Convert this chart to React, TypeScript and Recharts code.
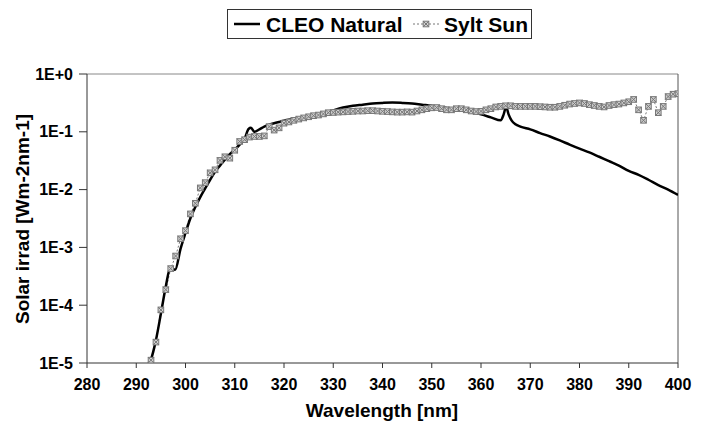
import React from 'react';
import { LineChart, Line, XAxis, YAxis, ReferenceLine } from 'recharts';

// ---- data ----
const cleoWavelength = [
  292.5, 293, 294, 295, 296, 296.9, 297.9, 299, 300, 301, 302, 303, 304, 305, 306, 307, 308, 309, 310,
  311, 312, 312.8, 313.3, 314, 315, 316, 317, 318, 319, 320, 322, 324, 326, 328, 330, 332, 334, 336,
  338, 340, 342, 344, 346, 348, 350, 352, 354, 356, 358, 360, 362, 364, 364.6, 365.1, 365.6, 366.2,
  367, 368, 370, 372, 374, 376, 378, 380, 382, 384, 386, 388, 390, 392, 394, 396, 398, 400,
];
const cleoIrradiance = [
  1.0e-5, 1.17e-5, 2.5e-5, 7.1e-5, 2.1e-4, 4.4e-4, 4.1e-4, 9.5e-4, 1.78e-3, 3.2e-3, 5.0e-3, 7.4e-3,
  1.05e-2, 1.48e-2, 2.04e-2, 2.6e-2, 3.3e-2, 4.1e-2, 4.9e-2, 6.0e-2, 7.6e-2, 0.112, 0.117, 0.1, 0.11,
  0.123, 0.133, 0.141, 0.148, 0.155, 0.166, 0.174, 0.186, 0.204, 0.234, 0.263, 0.282, 0.295, 0.309,
  0.316, 0.32, 0.316, 0.309, 0.295, 0.282, 0.266, 0.251, 0.234, 0.219, 0.2, 0.178, 0.158, 0.2, 0.27,
  0.2, 0.158, 0.135, 0.123, 0.11, 0.095, 0.083, 0.071, 0.06, 0.051, 0.044, 0.037, 0.031, 0.026, 0.021,
  0.018, 0.0148, 0.012, 0.01, 0.0081,
];
const syltWavelength = [
  293, 294, 295, 296, 297, 298, 299, 300, 301, 302, 303, 304, 305, 306, 307, 308, 309, 310, 311, 312,
  313, 314, 315, 316, 317, 318, 319, 320, 321, 322, 323, 324, 325, 326, 327, 328, 329, 330, 331, 332,
  333, 334, 335, 336, 337, 338, 339, 340, 341, 342, 343, 344, 345, 346, 347, 348, 349, 350, 351, 352,
  353, 354, 355, 356, 357, 358, 359, 360, 361, 362, 363, 364, 365, 366, 367, 368, 369, 370, 371, 372,
  373, 374, 375, 376, 377, 378, 379, 380, 381, 382, 383, 384, 385, 386, 387, 388, 389, 390, 391, 392,
  393, 394, 395, 396, 397, 398, 399, 400,
];
const syltIrradiance = [
  1.12e-5, 2.3e-5, 8.3e-5, 1.86e-4, 4.3e-4, 7.1e-4, 1.41e-3, 1.95e-3, 3.8e-3, 5.8e-3, 1.07e-2, 1.32e-2,
  1.95e-2, 2.2e-2, 3.2e-2, 3.7e-2, 3.5e-2, 4.8e-2, 6.8e-2, 7.3e-2, 8.1e-2, 8.3e-2, 8.3e-2, 8.5e-2,
  0.123, 0.107, 0.117, 0.141, 0.148, 0.158, 0.166, 0.174, 0.182, 0.19, 0.195, 0.204, 0.214, 0.216,
  0.219, 0.221, 0.224, 0.226, 0.229, 0.229, 0.232, 0.232, 0.229, 0.226, 0.224, 0.221, 0.219, 0.219,
  0.221, 0.219, 0.229, 0.24, 0.251, 0.26, 0.263, 0.251, 0.24, 0.24, 0.251, 0.251, 0.24, 0.229, 0.224,
  0.226, 0.24, 0.251, 0.269, 0.275, 0.282, 0.282, 0.275, 0.275, 0.275, 0.275, 0.275, 0.272, 0.269,
  0.266, 0.266, 0.275, 0.288, 0.302, 0.309, 0.316, 0.309, 0.295, 0.285, 0.275, 0.269, 0.285, 0.295,
  0.302, 0.316, 0.331, 0.363, 0.24, 0.158, 0.275, 0.363, 0.214, 0.275, 0.407, 0.447, 0.457,
];
const xTicks = [280, 290, 300, 310, 320, 330, 340, 350, 360, 370, 380, 390, 400];
const yTicks = [1e-5, 1e-4, 1e-3, 1e-2, 1e-1, 1];
const yTickLabels = ['1E-5', '1E-4', '1E-3', '1E-2', '1E-1', '1E+0'];
const seriesNames = ['CLEO Natural', 'Sylt Sun'];
const xTitle = 'Wavelength [nm]';
const yTitle = 'Solar irrad [Wm-2nm-1]';

const cleoData = cleoWavelength.map((x, i) => ({ x, y: cleoIrradiance[i] }));
const syltData = syltWavelength.map((x, i) => ({ x, y: syltIrradiance[i] }));

const FONT = '"Liberation Sans", Arial, Helvetica, sans-serif';
const GRAY = '#777777';

const SyltMarker = (props: any) => {
  const { cx, cy } = props;
  if (cx == null || cy == null) return null;
  const s = 2.8;
  return (
    <g>
      <rect x={cx - s} y={cy - s} width={2 * s} height={2 * s} fill="#d0d0d0" stroke={GRAY} strokeWidth={1} />
      <line x1={cx - s} y1={cy - s} x2={cx + s} y2={cy + s} stroke={GRAY} strokeWidth={1} />
      <line x1={cx - s} y1={cy + s} x2={cx + s} y2={cy - s} stroke={GRAY} strokeWidth={1} />
    </g>
  );
};

const YTitle = () => (
  <text
    x={22}
    y={219}
    transform="rotate(-90, 22, 219)"
    textAnchor="middle"
    dominantBaseline="central"
    fontFamily={FONT}
    fontWeight="bold"
    fontSize={19}
    fill="#000"
  >
    {yTitle}
  </text>
);

const XTitle = () => (
  <text
    x={382}
    y={410}
    textAnchor="middle"
    dominantBaseline="central"
    fontFamily={FONT}
    fontWeight="bold"
    fontSize={19}
    fill="#000"
  >
    {xTitle}
  </text>
);

const LegendBox = () => (
  <div
    style={{
      position: 'absolute',
      left: 227,
      top: 9,
      width: 305,
      height: 30,
      boxSizing: 'border-box',
      border: '1px solid #333',
      background: '#fff',
    }}
  >
    <svg width={303} height={28} style={{ position: 'absolute', left: 0, top: 0 }}>
      <line x1={6} y1={14} x2={32} y2={14} stroke="#000" strokeWidth={2.5} />
      <text x={38} y={14} dominantBaseline="central" fontFamily={FONT} fontWeight="bold" fontSize={21}>
        {seriesNames[0]}
      </text>
      <line x1={185} y1={14} x2={211} y2={14} stroke={GRAY} strokeWidth={1} strokeDasharray="2 2" />
      <SyltMarker cx={198} cy={14} />
      <text x={216} y={14} dominantBaseline="central" fontFamily={FONT} fontWeight="bold" fontSize={21}>
        {seriesNames[1]}
      </text>
    </svg>
  </div>
);

export default function App() {
  return (
    <div style={{ position: 'absolute', left: 0, top: 0, width: 704, height: 426, background: '#fff' }}>
      <LineChart width={704} height={426} margin={{ top: 74, right: 26, bottom: 0, left: 0 }}>
        <XAxis
          type="number"
          dataKey="x"
          domain={[280, 400]}
          ticks={xTicks}
          interval={0}
          height={63}
          allowDataOverflow
          stroke="#333"
          tickSize={5}
          tickMargin={11}
          tick={{ fontFamily: FONT, fontWeight: 'bold', fontSize: 16, fill: '#000' }}
          tickLine={{ stroke: '#333' }}
          label={<XTitle />}
        />
        <YAxis
          type="number"
          dataKey="y"
          scale="log"
          domain={[1e-5, 1]}
          ticks={yTicks}
          interval={0}
          width={87}
          allowDataOverflow
          stroke="#333"
          tickSize={8}
          tickMargin={6}
          tickFormatter={(v: number) => yTickLabels[yTicks.indexOf(v)] ?? ''}
          tick={{ fontFamily: FONT, fontWeight: 'bold', fontSize: 16, fill: '#000' }}
          tickLine={{ stroke: '#333' }}
          label={<YTitle />}
        />
        <ReferenceLine y={1} stroke="#888" strokeWidth={1} ifOverflow="visible" />
        <ReferenceLine x={400} stroke="#555" strokeWidth={1} ifOverflow="visible" />
        <Line
          data={syltData}
          dataKey="y"
          name={seriesNames[1]}
          type="linear"
          stroke={GRAY}
          strokeWidth={1}
          strokeDasharray="2 2"
          dot={(p: any) => <SyltMarker key={`d-${p.index}`} {...p} />}
          activeDot={false}
          isAnimationActive={false}
        />
        <Line
          data={cleoData}
          dataKey="y"
          name={seriesNames[0]}
          type="monotone"
          stroke="#000"
          strokeWidth={2.5}
          dot={false}
          activeDot={false}
          isAnimationActive={false}
        />
      </LineChart>
      <LegendBox />
    </div>
  );
}
